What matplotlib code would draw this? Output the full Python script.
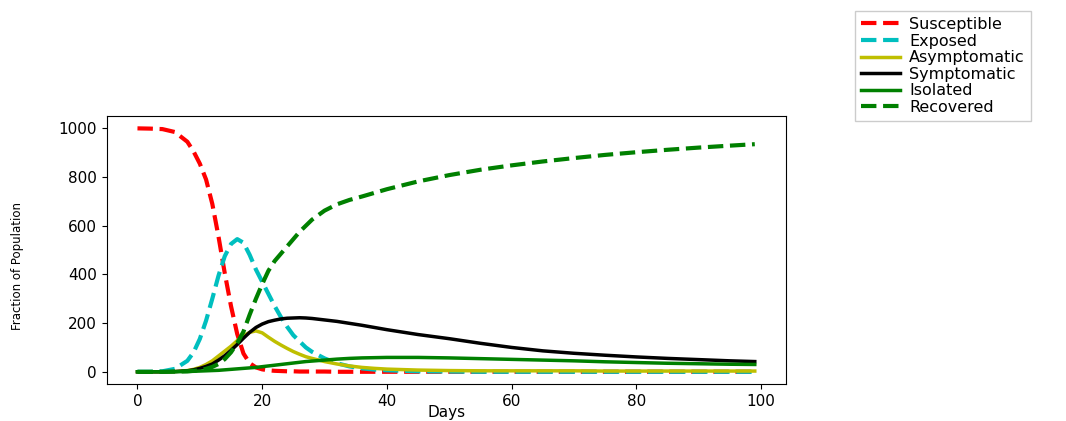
import matplotlib
matplotlib.use("Agg")
import matplotlib.pyplot as plt

# ---------------------------------------------------------------
# Values
# ---------------------------------------------------------------
days = [0, 2, 4, 6, 8, 9, 10, 11, 12, 13, 14, 15, 16, 17, 18, 19, 20, 21, 22,
        23, 24, 25, 26, 27, 28, 30, 32, 34, 36, 38, 40, 45, 50, 55, 60, 65, 70,
        75, 80, 85, 90, 95, 99]

susceptible = [1000, 999, 997, 985, 945, 905, 855, 790, 690, 555, 405, 270, 155,
               75, 35, 18, 10, 6, 4, 3, 2, 2, 1, 1, 1, 1, 0, 0, 0, 0, 0, 0, 0,
               0, 0, 0, 0, 0, 0, 0, 0, 0, 0]
exposed = [0, 0, 2, 12, 45, 80, 135, 210, 300, 395, 475, 525, 545, 530, 480,
           420, 370, 320, 270, 225, 185, 150, 125, 100, 82, 55, 35, 22, 14, 9,
           6, 2, 1, 0, 0, 0, 0, 0, 0, 0, 0, 0, 0]
asymptomatic = [0, 0, 0, 1, 5, 10, 18, 30, 45, 65, 85, 105, 128, 148, 162, 168,
                160, 142, 125, 110, 96, 83, 72, 62, 55, 42, 32, 24, 18, 14, 11,
                7, 5, 4, 4, 4, 4, 3, 3, 3, 3, 3, 3]
symptomatic = [0, 0, 0, 1, 4, 8, 14, 22, 32, 48, 66, 88, 112, 138, 162, 182,
               196, 206, 212, 217, 220, 221, 222, 221, 219, 213, 207, 199, 191,
               182, 173, 153, 136, 117, 100, 86, 76, 68, 61, 55, 50, 45, 42]
isolated = [0, 0, 0, 0, 1, 2, 3, 4, 5, 6, 8, 10, 12, 14, 16, 18, 21, 24, 27, 30,
            33, 36, 39, 42, 44, 48, 52, 55, 57, 58, 59, 59, 57, 54, 51, 48, 45,
            41, 38, 35, 33, 31, 30]
recovered = [0, 0, 0, 1, 2, 4, 7, 12, 20, 32, 52, 80, 118, 165, 235, 300, 360,
             415, 455, 485, 515, 545, 575, 600, 625, 662, 688, 706, 720, 735,
             750, 782, 808, 830, 848, 864, 878, 891, 902, 912, 921, 929, 935]

# ---------------------------------------------------------------
# Plot
# ---------------------------------------------------------------
fig = plt.figure(figsize=(10.66, 4.21), dpi=100)
ax = fig.add_axes([0.100, 0.088, 0.637, 0.636])

ax.plot(days, susceptible, "r--", lw=3, label="Susceptible")
ax.plot(days, exposed, "c--", lw=3, label="Exposed")
ax.plot(days, asymptomatic, "y-", lw=2.5, label="Asymptomatic")
ax.plot(days, symptomatic, "k-", lw=2.5, label="Symptomatic")
ax.plot(days, isolated, "g-", lw=2.5, label="Isolated")
ax.plot(days, recovered, "g--", lw=3, label="Recovered")

ax.set_xticks([0, 20, 40, 60, 80, 100])
ax.set_yticks([0, 200, 400, 600, 800, 1000])
ax.tick_params(labelsize=11)
ax.set_xlabel("Days", fontsize=11, labelpad=-3)
ax.set_ylabel("Fraction of Population", fontsize=8.5)
ax.yaxis.set_label_coords(-0.121, 0.44)

fig.legend(loc="upper left", bbox_to_anchor=(0.802, 0.975), fontsize=11.5,
           labelspacing=0.1, handlelength=2.4, handletextpad=0.6,
           borderaxespad=0, fancybox=False, framealpha=1)

fig.savefig("out.png", dpi=100)
